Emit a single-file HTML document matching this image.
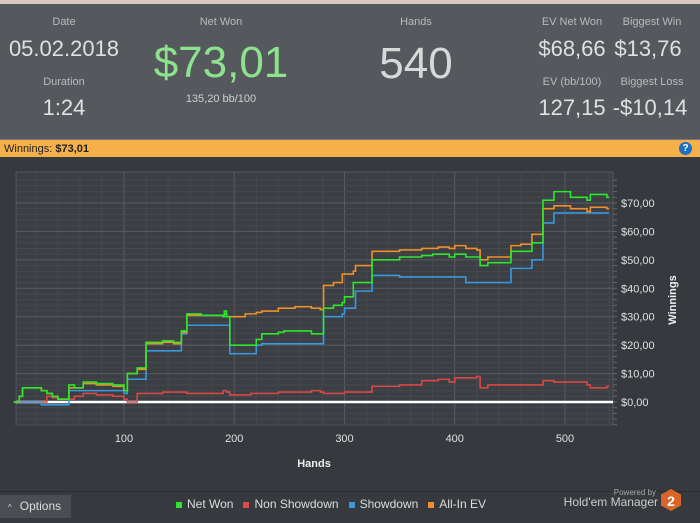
<!DOCTYPE html>
<html><head><meta charset="utf-8"><style>
body{margin:0;width:700px;height:523px;overflow:hidden;background:#36393d;font-family:"Liberation Sans",sans-serif;position:relative}
.t{position:absolute;color:#c8c8c8;text-align:center;white-space:nowrap}
.l{font-size:11px;color:#b9bbbd}
.v{font-size:22px;color:#e0e0e0}
</style></head><body>
<div style="position:absolute;left:0;top:0;width:700px;height:4px;background:#d8c7c0"></div>
<div style="position:absolute;left:0;top:4px;width:700px;height:135px;background:#55585c"></div>
<div class="t l" style="left:14px;top:16px;width:100px">Date</div>
<div class="t v" style="left:4px;top:36px;width:120px">05.02.2018</div>
<div class="t l" style="left:14px;top:76px;width:100px">Duration</div>
<div class="t v" style="left:14px;top:95px;width:100px">1:24</div>
<div class="t l" style="left:171px;top:16px;width:100px">Net Won</div>
<div class="t" style="left:141px;top:38px;width:160px;font-size:44px;color:#8de38d">$73,01</div>
<div class="t l" style="left:171px;top:93px;width:100px;color:#d0d0d0">135,20 bb/100</div>
<div class="t l" style="left:366px;top:16px;width:100px">Hands</div>
<div class="t" style="left:356px;top:39px;width:120px;font-size:44px;color:#d8d8d8">540</div>
<div class="t l" style="left:530px;top:16px;width:84px">EV Net Won</div>
<div class="t v" style="left:530px;top:36px;width:84px">$68,66</div>
<div class="t l" style="left:610px;top:16px;width:84px">Biggest Win</div>
<div class="t v" style="left:606px;top:36px;width:84px">$13,76</div>
<div class="t l" style="left:530px;top:76px;width:84px">EV (bb/100)</div>
<div class="t v" style="left:530px;top:95px;width:84px">127,15</div>
<div class="t l" style="left:610px;top:76px;width:84px">Biggest Loss</div>
<div class="t v" style="left:608px;top:95px;width:84px">-$10,14</div>
<div style="position:absolute;left:0;top:139px;width:700px;height:18px;background:#f5b04a;border-top:1px solid #777;font-size:11px;line-height:18px;color:#222;box-sizing:border-box;padding-left:4px">Winnings: <b>$73,01</b></div>
<div style="position:absolute;left:679px;top:142px;width:13px;height:13px;border-radius:50%;background:#1d6fc4;color:#fff;font-size:10px;font-weight:bold;text-align:center;line-height:13px">?</div>
<svg id="chart" width="700" height="523" style="position:absolute;left:0;top:0"></svg>
<div style="position:absolute;left:0;top:491px;width:700px;height:1px;background:#2a2c2f"></div>
<div style="position:absolute;left:0;top:495px;width:71px;height:23px;background:#4a4d51;color:#ddd;font-size:12px;line-height:23px"><span style="font-size:8px;margin:0 8px 0 8px">^</span>Options</div>
<div style="position:absolute;left:176px;top:497px;font-size:12px;color:#ddd;white-space:nowrap">
<span><span style="display:inline-block;width:6px;height:6px;background:#2ee62e;margin-right:5px"></span>Net Won</span>&nbsp;&nbsp;
<span><span style="display:inline-block;width:6px;height:6px;background:#e04848;margin-right:5px"></span>Non Showdown</span>&nbsp;&nbsp;
<span><span style="display:inline-block;width:6px;height:6px;background:#3a98e0;margin-right:5px"></span>Showdown</span>&nbsp;&nbsp;
<span><span style="display:inline-block;width:6px;height:6px;background:#f0902a;margin-right:5px"></span>All-In EV</span></div>
<div style="position:absolute;left:600px;top:488px;font-size:8px;color:#aaa;width:56px;text-align:right">Powered by</div>
<div style="position:absolute;left:556px;top:495px;font-size:12px;color:#ccc;width:102px;text-align:right">Hold'em Manager</div>
<svg width="20" height="22" style="position:absolute;left:661px;top:489px"><polygon points="10,0 20,5.5 20,16.5 10,22 0,16.5 0,5.5" fill="#d9652a"/><text x="10" y="17" text-anchor="middle" font-size="14" font-weight="bold" fill="#fff" font-family="Liberation Sans">2</text></svg>
<script>
const hands=[0,5,8,18,25,30,35,40,50,55,63,75,90,100,103,112,120,135,145,152,157,170,190,191,193,196,210,215,220,225,240,245,255,270,278,281,290,298,300,308,310,325,350,370,380,385,395,400,410,420,423,430,445,451,460,470,475,480,490,505,520,523,538,540];
const netWon=[0,2,5,5,4,3,2,1,6,5,7,6.5,6,4,10,12,21,21.5,21,25,31,30.5,30,32,30,20,20,20,22,24,24.5,25,25,24,24,33,34,35,37,42,42,50,51,51.5,52,52,51,52,51,51,48,49,49,53,53,56,56,71,74,72,71,73,72,72];
const showdown=[0,0,0,0,-1,-1,-1,-1,4,4,4,4,4,3,8,8,18,18,18,24,27,27,27,27,27,17,17,17,20,20.5,20.5,20.5,20.5,20.5,20.5,30,30,31,33,33,39,44.5,44,44,44,44,44,44,42,42,42,42,42,47,47,50,50,63,66.5,66.5,66.5,66.5,66.5,66.5];
const allInEv=[0,2,5,5,4,3,2,1,5,5,6.5,6,5.5,4,10,11.5,20.5,21,20.5,24.5,30.5,30.5,30,31,30,30,31,31,31.5,32,33,33,33.5,33,32.5,41,42,45,45,46,48,53,53.5,54,54,54.5,54,55,54,53.5,50,51,51,55,55.5,59,59,68,69,68,67,68.5,68,68];
const nonShowdown=[0,0,0,0,0,2,1.5,1,1,2,3,2.5,2,1,0,3,3,3.5,3.5,3.5,3,3,4,4,3.5,2.5,2.5,3,3,3,3.5,3.5,3.5,4,3.5,3,3,3,3.5,3.5,3.5,5.5,6,7.5,7.5,8,7,8.5,8.5,9,5,6,6,6,6,6,6,7.5,7,7,6,5,5.5,5.5];
const xTicks=[100,200,300,400,500];
const yTicks=[0,10,20,30,40,50,60,70];
const yTickLabels=["$0,00","$10,00","$20,00","$30,00","$40,00","$50,00","$60,00","$70,00"];
const svg=document.getElementById('chart');const NS='http://www.w3.org/2000/svg';
const X=h=>13.75+h*1.1025, Y=v=>402-v*2.843;
const L=16,R=613,T=172,B=425;
function mk(tag,a){const e=document.createElementNS(NS,tag);for(const k in a)e.setAttribute(k,a[k]);svg.appendChild(e);return e;}
let bg=mk('rect',{x:L,y:T,width:R-L,height:B-T,fill:'#3b3e42',stroke:'#55585c'});


for(let h=20;h<=540;h+=20){const g=mk('line',{x1:X(h),x2:X(h),y1:T,y2:B,stroke:h%100==0?'#5a5d61':'#46494d','stroke-width':1});

}
for(let v=-8;v<=78;v+=2){if(Y(v)<T||Y(v)>B)continue;const g=mk('line',{x1:L,x2:R,y1:Y(v),y2:Y(v),stroke:v%10==0?'#5a5d61':'#46494d'});


const tk=mk('line',{x1:R,x2:R+4,y1:Y(v),y2:Y(v),stroke:'#666'});

}
xTicks.forEach(h=>{const t=mk('text',{x:X(h),y:442,'text-anchor':'middle','font-size':11,fill:'#e0e0e0'});t.textContent=h;

});
yTicks.forEach((v,i)=>{const t=mk('text',{x:621,y:Y(v)+4,'font-size':11,fill:'#e0e0e0'});t.textContent=yTickLabels[i];

});
let zl=mk('line',{x1:L,x2:R,y1:Y(0),y2:Y(0),stroke:'#fff','stroke-width':2.5});


let xt=mk('text',{x:314,y:467,'text-anchor':'middle','font-size':11,'font-weight':'bold',fill:'#eee'});xt.textContent='Hands';


let yt=mk('text',{x:676,y:300,'text-anchor':'middle','font-size':11,'font-weight':'bold',fill:'#eee',transform:'rotate(-90 676 300)'});yt.textContent='Winnings';


function line(vals,col,name){let d='M'+X(hands[0])+' '+Y(vals[0]);for(let i=1;i<hands.length;i++){d+=' L'+X(hands[i])+' '+Y(vals[i-1])+' L'+X(hands[i])+' '+Y(vals[i]);}
const p=mk('path',{d:d,fill:'none',stroke:col,'stroke-width':1.6});

}
line(nonShowdown,'#d94848','non-showdown-line');
line(showdown,'#3a98e0','showdown-line');
line(allInEv,'#f0902a','all-in-ev-line');
line(netWon,'#2ee62e','net-won-line');
</script>
</body></html>
